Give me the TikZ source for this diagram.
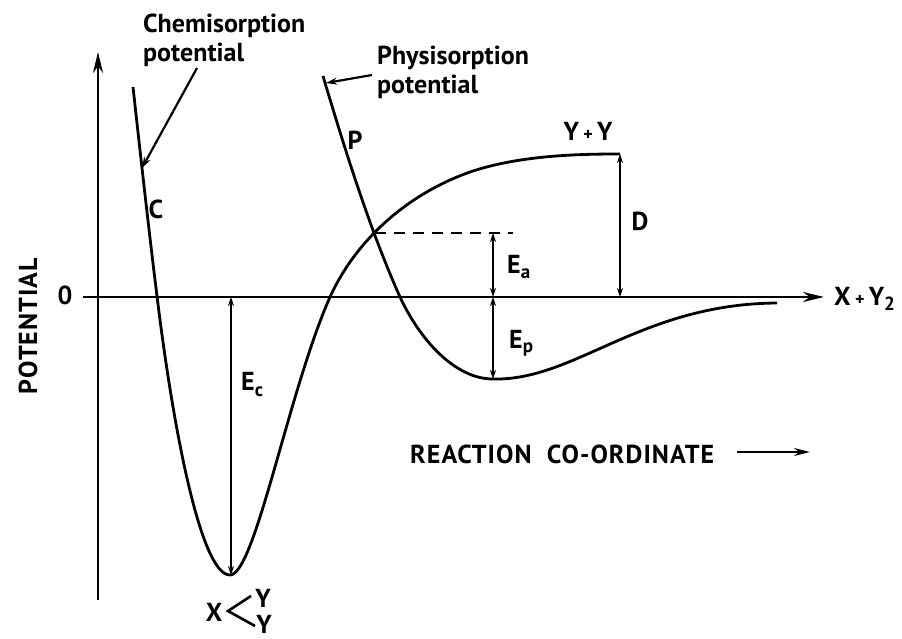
\documentclass[tikz,border=0pt]{standalone}
\usepackage{fontspec}
\setmainfont{PT Sans}
\usetikzlibrary{arrows.meta}
\begin{document}
\begin{tikzpicture}[x=1pt,y=-1pt,
  axis/.style={line width=2.6pt,-{Stealth[length=21pt,width=10pt]}},
  curve/.style={line width=2.8pt},
  dim/.style={line width=2pt,{Stealth[length=9pt,width=6pt]}-{Stealth[length=9pt,width=6pt]}},
  pointer/.style={line width=2.2pt,-{Stealth[length=11pt,width=7pt]}},
  lbl/.style={font=\bfseries\fontsize{26}{30}\selectfont, inner sep=0pt}]
\useasboundingbox[fill=white] (0,0) rectangle (902,639);

% axes
\coordinate (vb) at (98,600);
\coordinate (vt) at (98,52);
\coordinate (hl) at (83,297);
\coordinate (hr) at (824,297);
\draw[axis] (vb) -- (vt);
\draw[axis] (hl) -- (hr);

% chemisorption curve
\draw[curve] (133,87) .. controls (141,160) and (150,240) .. (157,296)
  .. controls (172,420) and (200,575) .. (230,575)
  .. controls (255,575) and (288,392) .. (330,297)
  .. controls (355,242) and (405,195) .. (470,172)
  .. controls (520,155) and (580,154) .. (620,154);

% physisorption curve
\draw[curve] (323,76) .. controls (345,150) and (370,230) .. (400,297)
  .. controls (420,340) and (455,379) .. (493,379)
  .. controls (575,381) and (640,304) .. (777,303);

% key points
\coordinate (X) at (375,233);
\coordinate (dashend) at (513,233);
\coordinate (eatop) at (493,233);
\coordinate (eaaxis) at (493,297);
\coordinate (epmin) at (493,379);
\coordinate (dtop) at (620,154);
\coordinate (daxis) at (620,297);
\coordinate (ecaxis) at (231,297);
\coordinate (ecmin) at (231,575);

\draw[line width=2pt, dash pattern=on 11pt off 8pt] (X) -- (dashend);
\draw[dim] (eaaxis) -- (eatop);
\draw[dim] (eaaxis) -- (epmin);
\draw[dim] (daxis) -- (dtop);
\draw[dim] (ecaxis) -- (ecmin);

% pointers
\coordinate (cpa) at (197,68);
\coordinate (cpb) at (142,168);
\coordinate (ppa) at (372,75);
\coordinate (ppb) at (326,83);
\draw[pointer] (cpa) -- (cpb);
\draw[pointer] (ppa) -- (ppb);

% labels
\node[lbl, anchor=base west] (chem1) at (143,33) {Chemisorption};
\node[lbl, anchor=base west] (chem2) at (143,62) {potential};
\node[lbl, anchor=base west] (phys1) at (377,65) {Physisorption};
\node[lbl, anchor=base west] (phys2) at (377,94) {potential};
\node[lbl] (Clab) at (156,209) {C};
\node[lbl] (Plab) at (355,140) {P};
\node[lbl] (YY) at (588,131) {Y\,{\fontsize{18}{18}\selectfont +}\,Y};
\node[lbl] (Dlab) at (640,221) {D};
\node[lbl, anchor=base west] (Ea) at (507,273) {E\raisebox{-5pt}{\fontsize{19}{19}\selectfont a}};
\node[lbl, anchor=base west] (Ep) at (509,348) {E\raisebox{-4pt}{\fontsize{19}{19}\selectfont p}};
\node[lbl, anchor=base west] (Ec) at (241,390) {E\raisebox{-6pt}{\fontsize{19}{19}\selectfont c}};
\node[lbl] (zero) at (65,295) {0};
\node[lbl, rotate=90] (pot) at (28,326) {\addfontfeature{LetterSpace=4}POTENTIAL};
\node[lbl, anchor=west] (xy2) at (834,299) {X\,{\fontsize{18}{18}\selectfont +}\,Y\raisebox{-5pt}{\fontsize{19}{19}\selectfont 2}};
\node[lbl, anchor=base west] (rc) at (410,463) {\addfontfeature{LetterSpace=4}REACTION\ \ CO-ORDINATE};
\coordinate (rca) at (737,452);
\coordinate (rcb) at (810,452);
\draw[line width=2.4pt,-{Stealth[length=16pt,width=8pt]}] (rca) -- (rcb);

% bottom X < Y Y
\node[lbl] (Xb) at (214,612) {X};
\coordinate (lt1) at (251,596);
\coordinate (lt2) at (228,611);
\coordinate (lt3) at (255,626);
\draw[line width=2.6pt] (lt1) -- (lt2) -- (lt3);
\node[lbl] (Yu) at (263,598) {Y};
\node[lbl] (Yl) at (264,624) {Y};
\end{tikzpicture}
\end{document}
